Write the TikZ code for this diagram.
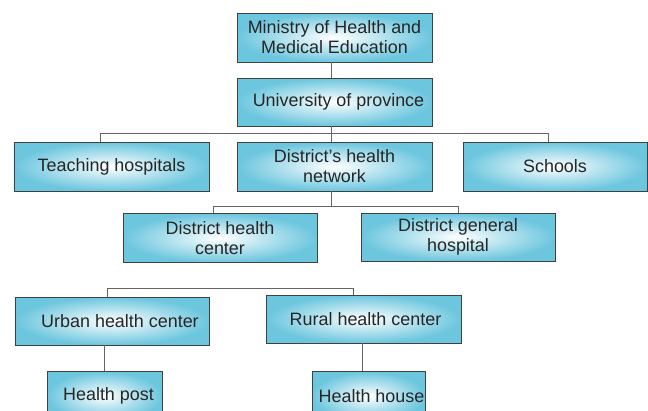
\documentclass[tikz,border=0pt]{standalone}
\usepackage{fontspec}
\setmainfont{Liberation Sans}
\usetikzlibrary{positioning, calc}
\definecolor{boxedge}{RGB}{108,198,222}
\definecolor{boxline}{RGB}{64,64,64}
\definecolor{wire}{RGB}{100,100,100}

\begin{document}
\begin{tikzpicture}[x=1bp, y=-1bp,
    every node/.style={font=\fontsize{18}{20}\selectfont, text=black!85, align=center, inner sep=0pt},
    unit/.style={draw=boxline, line width=0.9pt, inner color=white, outer color=boxedge, minimum width=195bp, minimum height=49bp},
    link/.style={draw=wire, line width=0.9pt}]
    % Frame
    \useasboundingbox (0,0) rectangle (648,410);
    \clip (0,0) rectangle (648,410);

    % Nodes
    \node[unit] (min) at (334.5, 37.5) {Ministry of Health and\\Medical Education};
    \node[unit, minimum height=48bp] (univ) at (334.5, 102) {\hspace{8bp}University of province};
    \node[unit] (teach) at (111.5, 166.5) {Teaching hospitals};
    \node[unit] (net) at (334.5, 166.5) {District's health\\network};
    \node[unit, minimum width=184bp] (school) at (555, 166.5) {Schools};
    \node[unit, minimum width=194bp] (dhc) at (220, 238) {District health\\center};
    \node[unit, minimum width=194bp, minimum height=48bp] (dgh) at (458, 237) {District general\\hospital};
    \node[unit, minimum width=194bp, minimum height=48bp] (urban) at (112, 321) {\hspace{16bp}Urban health center};
    \node[unit, minimum height=48bp] (rural) at (363.5, 319) {\hspace{4bp}Rural health center};
    \node[unit, minimum width=115bp] (post) at (104.5, 396) {\hspace{8bp}Health post};
    \node[unit, minimum width=113bp] (house) at (368.5, 396) {\hspace{6bp}Health house};

    % Edges
    \draw[link, line width=1.6pt] ([xshift=-3bp]min.south) -- ([xshift=-3bp]univ.north);
    \draw[link] ([xshift=-3bp]univ.south) -- ([xshift=-3bp]net.north);
    \draw[link] ([xshift=-11.5bp]teach.north) -- ++(0,-8) -| ([xshift=-7bp]school.north);
    \draw[link] ([xshift=-3bp]net.south) -- ++(0,15) coordinate (split);
    \draw[link] ([xshift=-7bp]dhc.north) |- (split) -| (dgh.north);
    \draw[link] ([xshift=-5bp]urban.north) -- ++(0,-8) -| ([xshift=-10.5bp]rural.north);
    \draw[link] (post.north) -- (post.north |- urban.south);
    \draw[link] ([xshift=-1.5bp]rural.south) -- ([xshift=-1.5bp]rural.south |- house.north);
\end{tikzpicture}
\end{document}
